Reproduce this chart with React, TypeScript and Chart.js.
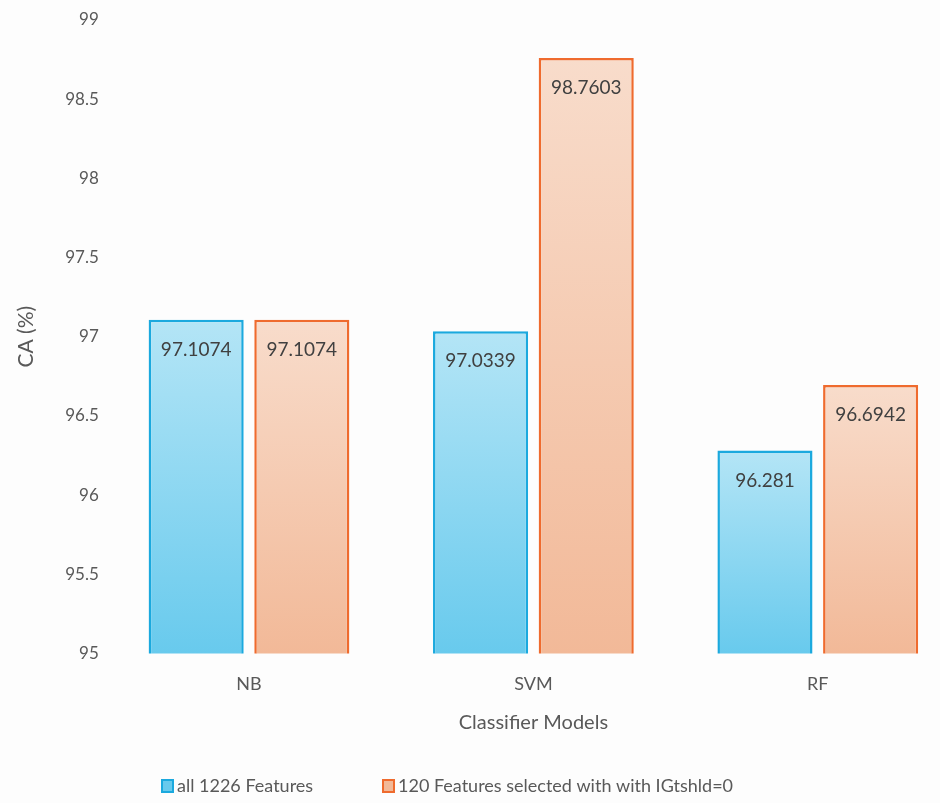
import React, { useEffect, useRef } from "react";
import { Chart, registerables } from "chart.js";

Chart.register(...registerables);

const categories = ["NB", "SVM", "RF"];
const seriesNames = ["all 1226 Features", "120 Features selected with with IGtshld=0"];
const allFeatures = [97.1074, 97.0339, 96.281];
const selectedFeatures = [97.1074, 98.7603, 96.6942];
const yTicks = [95, 95.5, 96, 96.5, 97, 97.5, 98, 98.5, 99];

const FONT = "Lato, 'Open Sans', sans-serif";
const TEXT = "#595959";

const palettes = [
  { top: "#b4e5f6", bottom: "#68caed", border: "#1ba9de" },
  { top: "#f8dccb", bottom: "#f2b998", border: "#ef6b2e" },
];

function barGradient(index: number) {
  return (ctx: any) => {
    const p = palettes[index];
    const chart = ctx.chart;
    const y = chart.scales?.y;
    if (!chart.chartArea || !y || ctx.type !== "data") return p.bottom;
    const top = y.getPixelForValue(ctx.raw);
    const base = y.getPixelForValue(y.min);
    if (!isFinite(top) || !isFinite(base) || base - top < 1) return p.bottom;
    const g = chart.ctx.createLinearGradient(0, top, 0, base);
    g.addColorStop(0, p.top);
    g.addColorStop(1, p.bottom);
    return g;
  };
}

const valueLabels = {
  id: "valueLabels",
  afterDatasetsDraw(chart: any) {
    const { ctx } = chart;
    ctx.save();
    ctx.font = `19px ${FONT}`;
    ctx.fillStyle = "#404040";
    ctx.textAlign = "center";
    ctx.textBaseline = "middle";
    chart.data.datasets.forEach((ds: any, di: number) => {
      chart.getDatasetMeta(di).data.forEach((bar: any, i: number) => {
        ctx.fillText(String(ds.data[i]), bar.x, bar.y + 30);
      });
    });
    ctx.restore();
  },
};

const bottomLegend = {
  id: "bottomLegend",
  afterDraw(chart: any) {
    const { ctx } = chart;
    ctx.save();
    ctx.font = `18px ${FONT}`;
    ctx.textBaseline = "middle";
    const y = 786;
    const starts = [162, 383];
    seriesNames.forEach((name, i) => {
      const p = palettes[i];
      const x = starts[i];
      ctx.fillStyle = p.bottom;
      ctx.fillRect(x, y - 6, 11, 12);
      ctx.strokeStyle = p.border;
      ctx.lineWidth = 2;
      ctx.strokeRect(x, y - 6, 11, 12);
      ctx.fillStyle = TEXT;
      ctx.textAlign = "left";
      ctx.fillText(name, x + 15, y);
    });
    ctx.restore();
  },
};

export default function App() {
  const ref = useRef<HTMLCanvasElement>(null);

  useEffect(() => {
    document.body.style.margin = "0";
    document.body.style.overflow = "hidden";
    const canvas = ref.current!;
    const chart = new Chart(canvas, {
      type: "bar",
      data: {
        labels: categories,
        datasets: [allFeatures, selectedFeatures].map((values, i) => ({
          label: seriesNames[i],
          data: values,
          backgroundColor: barGradient(i),
          borderColor: palettes[i].border,
          borderWidth: 2.5,
          borderSkipped: false,
          categoryPercentage: 0.743,
          barPercentage: 0.9,
        })),
      },
      options: {
        responsive: false,
        animation: false,
        layout: { padding: { left: 10, right: 20, top: 20, bottom: 68 } },
        plugins: {
          legend: { display: false },
          tooltip: { enabled: false },
        },
        scales: {
          x: {
            grid: { display: false, drawTicks: false },
            border: { display: false },
            ticks: { color: TEXT, font: { family: FONT, size: 18 }, padding: 20 },
            title: {
              display: true,
              text: "Classifier Models",
              color: TEXT,
              font: { family: FONT, size: 20 },
              padding: { top: -4, bottom: 0 },
            },
          },
          y: {
            min: 95,
            max: 99,
            afterBuildTicks(scale: any) {
              scale.ticks = yTicks.map((v) => ({ value: v }));
            },
            grid: { display: false, drawTicks: false },
            border: { display: false },
            ticks: {
              color: TEXT,
              font: { family: FONT, size: 17 },
              padding: 8,
              callback: (v: any) => String(v),
            },
            title: {
              display: true,
              text: "CA (%)",
              color: TEXT,
              font: { family: FONT, size: 21 },
              padding: { bottom: 18 },
            },
          },
        },
      },
      plugins: [valueLabels, bottomLegend],
    });
    return () => chart.destroy();
  }, []);

  return (
    <div style={{ position: "fixed", left: 0, top: 0, width: 980, height: 803, background: "#fdfdfd" }}>
      <canvas ref={ref} width={980} height={803} style={{ width: 980, height: 803 }} />
    </div>
  );
}
